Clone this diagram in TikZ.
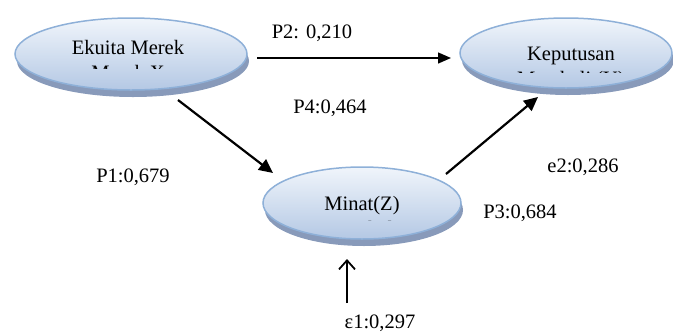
\documentclass[tikz,border=0pt]{standalone}
\usepackage{fontspec}
\setmainfont{Liberation Serif}
\usetikzlibrary{arrows.meta,shadows,shapes.geometric}
\definecolor{ellborder}{RGB}{142,176,216}
\definecolor{elltop}{RGB}{240,245,251}
\definecolor{ellbot}{RGB}{180,200,228}
\definecolor{ellshadow}{RGB}{136,154,186}
\tikzset{
  ell/.style={ellipse, draw=ellborder, line width=1.5pt, top color=elltop, bottom color=ellbot,
    drop shadow={shadow xshift=2pt, shadow yshift=-7pt, fill=ellshadow, opacity=1}},
  lbl/.style={font=\fontsize{20.5}{25}\selectfont, inner sep=0pt, anchor=base},
  conn/.style={line width=2.2pt, -{Triangle[length=14pt,width=13pt]}},
  hconn/.style={line width=1.4pt, -{Triangle[length=13pt,width=11pt]}},
  vconn/.style={line width=1.8pt, -{Straight Barb[length=9pt,width=16pt]}}
}
\begin{document}
\begin{tikzpicture}[x=1pt,y=-1pt]
\useasboundingbox (0,0) rectangle (673,333);
% ellipses
\node[ell, minimum width=232pt, minimum height=72pt] (a) at (131,54) {};
\node[ell, minimum width=212pt, minimum height=70pt] (b) at (566,53) {};
\node[ell, minimum width=198pt, minimum height=72pt] (c) at (362,203) {};
% texts inside
\node[lbl] (ta) at (128,54) {Ekuita Merek};
\begin{scope}
\clip (40,64) rectangle (220,68.5);
\node[lbl] (ta2) at (128,79) {Merek X};
\end{scope}
\node[lbl] (tb) at (571,60) {Keputusan};
\begin{scope}
\clip (480,68) rectangle (660,72.5);
\node[lbl] (tb2) at (571,85) {Membeli (Y)};
\end{scope}
\node[lbl] (tc) at (362,210) {Minat(Z)};
\begin{scope}
\clip (300,216) rectangle (420,220.5);
\node[lbl] (tc2) at (362,235) {Membeli};
\end{scope}
% labels
\node[lbl] (p2) at (312,38) {P2: 0,210};
\node[lbl] (p4) at (330,113) {P4:0,464};
\node[lbl] (p1) at (133,182) {P1:0,679};
\node[lbl] (e2) at (583,172) {e2:0,286};
\node[lbl] (p3) at (520,218) {P3:0,684};
\node[lbl] (e1) at (380,328) {ε1:0,297};
% connector endpoints
\coordinate (p2s) at (257,58);
\coordinate (p2e) at (451,58);
\coordinate (p1s) at (178,100);
\coordinate (p1e) at (273,173);
\coordinate (p3s) at (446,174);
\coordinate (p3e) at (538,97);
\coordinate (e1s) at (347,303);
\coordinate (e1e) at (347,259);
\draw[hconn] (p2s) -- (p2e);
\draw[conn] (p1s) -- (p1e);
\draw[conn] (p3s) -- (p3e);
\draw[vconn] (e1s) -- (e1e);
\end{tikzpicture}
\end{document}
